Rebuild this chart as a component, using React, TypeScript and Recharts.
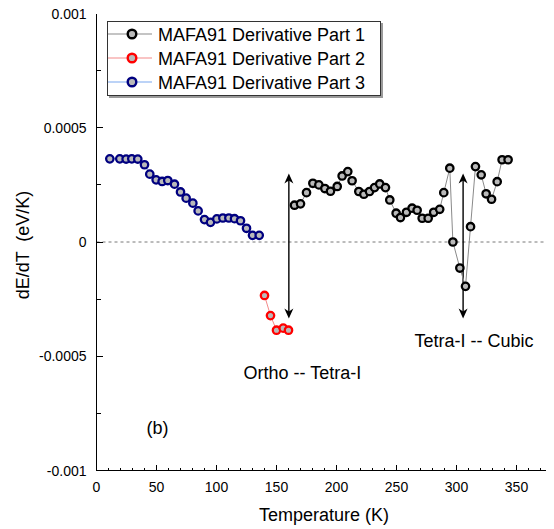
import React from 'react';
import { LineChart, Line, XAxis, YAxis, ReferenceLine, ReferenceDot, Legend } from 'recharts';

// ---- Data (Temperature K, dE/dT eV/K) ----
const part1T = [165, 170, 175, 180.3, 185.3, 190.3, 195, 200.6, 204.7, 209.4, 213, 218.6, 222.8, 227.5, 231.7, 236, 240.8, 244.4, 249.7, 253.3, 258.3, 263, 267.2, 271.4, 276.4, 281, 286, 289.4, 294.4, 297, 302.8, 307.5, 311.7, 315.8, 320.6, 324.7, 329.2, 333.9, 338, 343];
const part1V = [0.000161, 0.000167, 0.000216, 0.000257, 0.00025, 0.000234, 0.000222, 0.000243, 0.000289, 0.000308, 0.000268, 0.000221, 0.000209, 0.000221, 0.000238, 0.000254, 0.000238, 0.000184, 0.000126, 0.000107, 0.00013, 0.000148, 0.000139, 0.000104, 0.000104, 0.00013, 0.000143, 0.000216, 0.000323, 0.0, -0.000114, -0.000194, 0.000067, 0.00033, 0.000294, 0.000211, 0.000187, 0.000264, 0.00036, 0.00036];

const part2T = [140, 145, 150, 155.6, 160];
const part2V = [-0.000234, -0.000322, -0.000386, -0.000377, -0.000386];

const part3T = [11.1, 19.4, 24.7, 29.4, 34.4, 40, 44.4, 49.7, 54.7, 59.4, 65, 70, 74.7, 80.3, 84.7, 90, 95, 100.3, 105.3, 110.3, 115, 120, 125, 130, 135.6];
const part3V = [0.000364, 0.000364, 0.000363, 0.000364, 0.000363, 0.000338, 0.000297, 0.000272, 0.000265, 0.000269, 0.000253, 0.000219, 0.000192, 0.00017, 0.000136, 0.000098, 0.000086, 0.000101, 0.000105, 0.000105, 0.000102, 0.000093, 0.00006, 0.000029, 0.000029];

const seriesNames = ['MAFA91 Derivative Part 1', 'MAFA91 Derivative Part 2', 'MAFA91 Derivative Part 3'];

const xTicks = Array.from({ length: 39 }, (_, i) => i * 10);
const xMajorLabels = ['0', '50', '100', '150', '200', '250', '300', '350'];
const yTicks = [-0.001, -0.00075, -0.0005, -0.00025, 0, 0.00025, 0.0005, 0.00075, 0.001];
const yMajorLabels: Record<string, string> = { '-0.001': '-0.001', '-0.0005': '-0.0005', '0': '0', '0.0005': '0.0005', '0.001': '0.001' };

const arrowT = [160.3, 305.5];
const arrowTop = 0.0003;
const arrowBottom = -0.000335;

const annotations = [
  { t: 122.5, v: -0.0006, text: 'Ortho -- Tetra-I' },
  { t: 265, v: -0.00046, text: 'Tetra-I -- Cubic' },
  { t: 41.7, v: -0.00084, text: '(b)' },
];

const toRows = (ts: number[], vs: number[]) => ts.map((t, i) => ({ t, v: vs[i] }));
const data1 = toRows(part1T, part1V);
const data2 = toRows(part2T, part2V);
const data3 = toRows(part3T, part3V);

const FONT = '"Liberation Sans", Arial, sans-serif';
const MARKER_FILL = '#b9b9b9';

const styles = [
  { stroke: '#000000', line: '#8a8a8a' },
  { stroke: '#ff0000', line: '#f48a8a' },
  { stroke: '#000080', line: '#7aa7f0' },
];

const makeDot = (stroke: string) => (p: any) => {
  if (p.cx == null || p.cy == null) return <g key={p.key} />;
  return <circle key={p.key} cx={p.cx} cy={p.cy} r={3.7} fill={MARKER_FILL} stroke={stroke} strokeWidth={2.3} />;
};

const XTick = (p: any) => {
  const { x, y, payload } = p;
  const val = payload.value;
  const major = Math.round(val) % 50 === 0;
  const label = xMajorLabels.find((l) => Number(l) === Math.round(val));
  return (
    <g>
      {val > 0 && val < 380 && (
        <line x1={x} y1={y} x2={x} y2={y - (major ? 6 : 3)} stroke="#000" strokeWidth={1} shapeRendering="crispEdges" />
      )}
      {major && label !== undefined && (
        <text x={x} y={y + 21} textAnchor="middle" fontSize={14} fontFamily={FONT} fill="#000">
          {label}
        </text>
      )}
    </g>
  );
};

const YTick = (p: any) => {
  const { x, y, payload } = p;
  const val = payload.value;
  const key = String(Math.round(val * 10000) / 10000);
  const label = yMajorLabels[key];
  const major = label !== undefined;
  return (
    <g>
      {Math.abs(val) < 0.00099 && (
        <line x1={x} y1={y} x2={x + (major ? 6 : 4)} y2={y} stroke="#000" strokeWidth={1} shapeRendering="crispEdges" />
      )}
      {major && (
        <text x={x - 10} y={y + 5} textAnchor="end" fontSize={14} fontFamily={FONT} fill="#000">
          {label}
        </text>
      )}
    </g>
  );
};

const DoubleArrow = (p: any) => {
  const { x1, y1, y2 } = p;
  const top = Math.min(y1, y2);
  const bot = Math.max(y1, y2);
  const x = x1;
  return (
    <g>
      <line x1={x} y1={top + 3} x2={x} y2={bot - 3} stroke="#000" strokeWidth={1.4} />
      <path d={`M${x},${top} L${x - 4.5},${top + 10} L${x},${top + 7} L${x + 4.5},${top + 10} Z`} fill="#000" />
      <path d={`M${x},${bot} L${x - 4.5},${bot - 10} L${x},${bot - 7} L${x + 4.5},${bot - 10} Z`} fill="#000" />
    </g>
  );
};

const LegendBox = () => (
  <div
    style={{
      width: 274,
      height: 75,
      boxSizing: 'border-box',
      border: '1px solid #333',
      boxShadow: '2px 2px 0 #9a9a9a',
      background: '#fff',
    }}
  >
    <svg width={272} height={73} style={{ display: 'block' }}>
      {seriesNames.map((name, i) => {
        const cy = 12 + i * 24;
        return (
          <g key={name}>
            <line x1={0} y1={cy} x2={44} y2={cy} stroke={styles[i].line} strokeWidth={1.2} />
            <circle cx={24} cy={cy} r={4.3} fill={MARKER_FILL} stroke={styles[i].stroke} strokeWidth={2.4} />
            <text x={50} y={cy + 6.5} fontSize={18} fontFamily={FONT} fill="#000">
              {name}
            </text>
          </g>
        );
      })}
    </svg>
  </div>
);

const AXIS_LINE = { stroke: '#000', strokeWidth: 1, shapeRendering: 'crispEdges' } as any;

export default function App() {
  return (
    <div style={{ width: 554, height: 529, margin: '-8px 0 0 -8px', fontFamily: FONT }}>
      <LineChart width={554} height={529} margin={{ top: 13.5, right: 1.5, bottom: 0, left: 0 }}>
        <XAxis
          dataKey="t"
          type="number"
          domain={[0, 380]}
          ticks={xTicks}
          interval={0}
          allowDataOverflow
          height={58.5}
          tickSize={0}
          tickMargin={0}
          tickLine={false}
          axisLine={AXIS_LINE}
          tick={XTick}
          label={() => (
            <text x={324} y={521} textAnchor="middle" fontSize={18} fontFamily={FONT} fill="#000">
              Temperature (K)
            </text>
          )}
        />
        <XAxis xAxisId="top" orientation="top" type="number" domain={[0, 380]} height={0} tick={false} tickLine={false} axisLine={AXIS_LINE} />
        <YAxis
          type="number"
          domain={[-0.001, 0.001]}
          ticks={yTicks}
          interval={0}
          allowDataOverflow
          width={96.5}
          tickSize={0}
          tickMargin={0}
          tickLine={false}
          axisLine={AXIS_LINE}
          tick={YTick}
          label={() => (
            <text
              x={23}
              y={245}
              transform="rotate(-90 23 245)"
              textAnchor="middle"
              dominantBaseline="central"
              fontSize={18}
              fontFamily={FONT}
              fill="#000"
              style={{ whiteSpace: 'pre' }}
            >
              {'dE/dT  (eV/K)'}
            </text>
          )}
        />
        <YAxis yAxisId="right" orientation="right" type="number" domain={[-0.001, 0.001]} width={0} tick={false} tickLine={false} axisLine={AXIS_LINE} />
        <ReferenceLine y={0} stroke="#555" strokeDasharray="3 3" strokeWidth={0.8} />
        {arrowT.map((t) => (
          <ReferenceLine
            key={`arrow-${t}`}
            segment={[
              { x: t, y: arrowTop },
              { x: t, y: arrowBottom },
            ]}
            shape={DoubleArrow}
          />
        ))}
        <Line data={data1} dataKey="v" name={seriesNames[0]} stroke={styles[0].line} strokeWidth={1} dot={makeDot(styles[0].stroke)} activeDot={false} isAnimationActive={false} />
        <Line data={data2} dataKey="v" name={seriesNames[1]} stroke={styles[1].line} strokeWidth={1} dot={makeDot(styles[1].stroke)} activeDot={false} isAnimationActive={false} />
        <Line data={data3} dataKey="v" name={seriesNames[2]} stroke={styles[2].line} strokeWidth={1} dot={makeDot(styles[2].stroke)} activeDot={false} isAnimationActive={false} />
        {annotations.map((a) => (
          <ReferenceDot
            key={a.text}
            x={a.t}
            y={a.v}
            r={0}
            shape={(p: any) => (
              <text x={p.cx} y={p.cy} fontSize={18} fontFamily={FONT} fill="#000">
                {a.text}
              </text>
            )}
          />
        ))}
        <Legend
          layout="horizontal"
          verticalAlign="middle"
          align="center"
          wrapperStyle={{ left: 106.7, top: 21, width: 274, height: 75 }}
          content={() => <LegendBox />}
        />
      </LineChart>
    </div>
  );
}
